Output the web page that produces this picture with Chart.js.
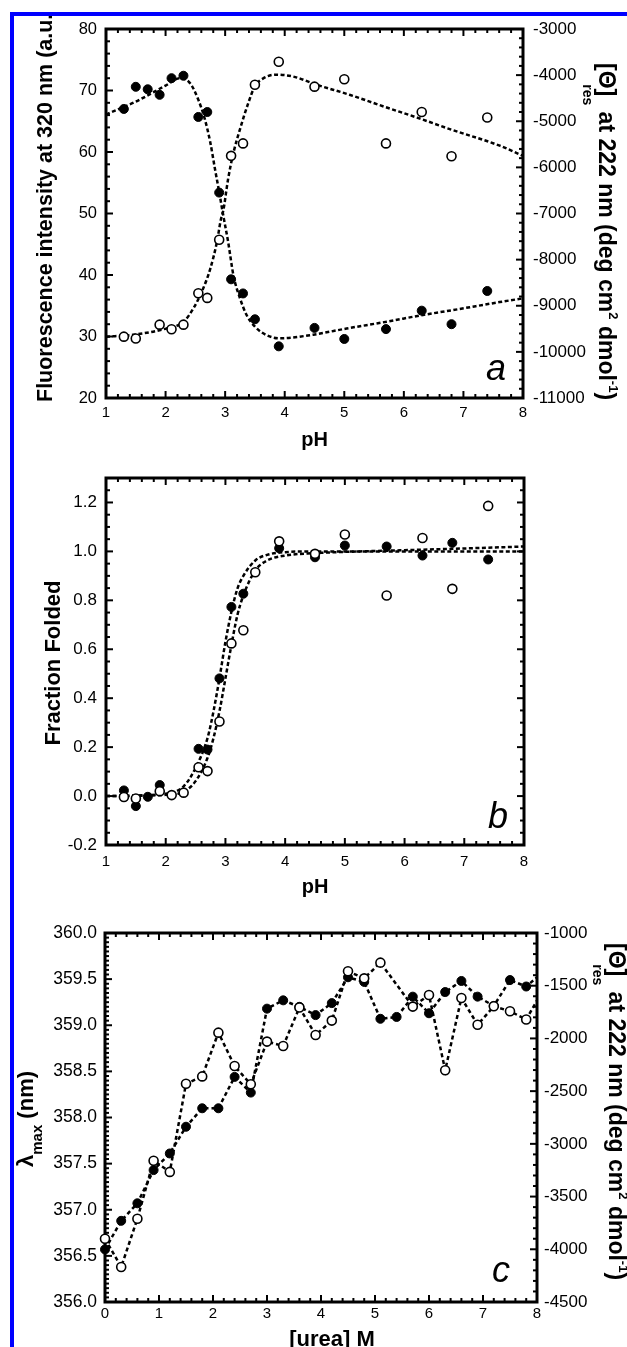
<!DOCTYPE html>
<html>
<head>
<meta charset="utf-8">
<script src="https://cdn.jsdelivr.net/npm/chart.js@4.4.1/dist/chart.umd.min.js"></script>
<style>
    html, body { margin: 0; padding: 0; background: #fff; }
    body { width: 627px; height: 1347px; position: relative; overflow: hidden; }
    canvas { position: absolute; left: 0; }
    #chart-a { top: 0; }
    #chart-b { top: 455px; }
    #chart-c { top: 905px; }
    .page-mask { position: absolute; left: 0; top: 0; width: 627px; height: 12px; background: #fff; }
    .page-mask.side { width: 10px; height: 1347px; }
    .page-edge {
        position: absolute; left: 10px; top: 12px; right: -10px; bottom: -10px;
        border-left: 4px solid #0000ff; border-top: 4px solid #0000ff;
        pointer-events: none;
    }
</style>
</head>
<body>
<canvas id="chart-a" width="627" height="455"></canvas>
<canvas id="chart-b" width="627" height="450"></canvas>
<canvas id="chart-c" width="627" height="442"></canvas>
<div class="page-mask"></div>
<div class="page-mask side"></div>
<div class="page-edge"></div>

<script>
/* ===========================
   DATA - panel a (pH, fluorescence / CD)
=========================== */

const phFluor = [1.3, 1.5, 1.7, 1.9, 2.1, 2.3, 2.55, 2.7, 2.9, 3.1, 3.3, 3.5, 3.9, 4.5, 5.0, 5.7, 6.3, 6.8, 7.4];
const fluorA = [67.0, 70.6, 70.2, 69.3, 72.0, 72.4, 65.7, 66.5, 53.4, 39.3, 37.0, 32.8, 28.4, 31.4, 29.6, 31.2, 34.2, 32.0, 37.4];

const phCd = [1.3, 1.5, 1.9, 2.1, 2.3, 2.55, 2.7, 2.9, 3.1, 3.3, 3.5, 3.9, 4.5, 5.0, 5.7, 6.3, 6.8, 7.4];
const cdA = [-9670, -9710, -9410, -9510, -9410, -8730, -8830, -7570, -5750, -5480, -4210, -3710, -4250, -4090, -5480, -4800, -5760, -4920];

const fitFluorPh = [1.0, 1.5, 2.0, 2.24, 2.41, 2.55, 2.66, 2.75, 2.83, 2.9, 2.97, 3.05, 3.14, 3.25, 3.36, 3.5, 3.7, 3.92, 4.48, 5.04, 5.71, 6.32, 6.83, 7.61, 8.0];
const fitFluorVal = [66.1, 68.2, 70.8, 72.0, 71.2, 68.5, 65.3, 61.6, 57.2, 53.5, 49.6, 45.4, 39.9, 36.2, 33.5, 31.6, 30.2, 29.7, 30.3, 31.3, 32.4, 33.5, 34.3, 35.6, 36.2];

const fitCdPh = [1.0, 1.45, 2.02, 2.3, 2.47, 2.61, 2.75, 2.86, 2.93, 2.97, 3.05, 3.14, 3.25, 3.39, 3.5, 3.64, 3.86, 4.14, 4.54, 5.1, 5.66, 6.22, 6.77, 7.61, 8.0];
const fitCdVal = [-9670, -9630, -9490, -9350, -9050, -8690, -8200, -7630, -7120, -6930, -6250, -5680, -5170, -4600, -4240, -4070, -3990, -4030, -4210, -4430, -4680, -4920, -5170, -5530, -5750];

/* ===========================
   DATA - panel b (fraction folded)
=========================== */

const phFoldFilled = [1.3, 1.5, 1.7, 1.9, 2.55, 2.7, 2.9, 3.1, 3.3, 3.9, 4.5, 5.0, 5.7, 6.3, 6.8, 7.4];
const foldFilled = [0.023, -0.041, -0.003, 0.045, 0.193, 0.190, 0.481, 0.773, 0.827, 1.013, 0.976, 1.024, 1.020, 0.983, 1.035, 0.967];

const phFoldOpen = [1.3, 1.5, 1.9, 2.1, 2.3, 2.55, 2.7, 2.9, 3.1, 3.3, 3.5, 3.9, 4.5, 5.0, 5.7, 6.3, 6.8, 7.4];
const foldOpen = [-0.004, -0.010, 0.020, 0.004, 0.014, 0.118, 0.102, 0.305, 0.624, 0.678, 0.915, 1.041, 0.990, 1.069, 0.820, 1.055, 0.847, 1.186];

const fitFoldPh = [1.0, 2.0, 2.3, 2.5, 2.7, 2.8, 2.9, 3.0, 3.1, 3.2, 3.3, 3.5, 3.7, 4.0, 4.5, 5.0, 6.0, 7.0, 8.0];
const fitFoldFilled = [0.0, 0.01, 0.04, 0.115, 0.237, 0.346, 0.481, 0.63, 0.753, 0.847, 0.90, 0.963, 0.986, 0.997, 1.0, 1.0, 1.0, 1.0, 1.0];
const fitFoldOpen = [0.0, 0.005, 0.018, 0.061, 0.156, 0.237, 0.346, 0.481, 0.617, 0.739, 0.82, 0.922, 0.963, 0.983, 0.993, 0.998, 1.005, 1.012, 1.02];

/* ===========================
   DATA - panel c (urea)
=========================== */

const ureaLambda = [0, 0.3, 0.6, 0.9, 1.2, 1.5, 1.8, 2.1, 2.4, 2.7, 3.0, 3.3, 3.6, 3.9, 4.2, 4.5, 4.8, 5.1, 5.4, 5.7, 6.0, 6.3, 6.6, 6.9, 7.2, 7.5, 7.8, 8.1];
const lambdaMax = [356.57, 356.88, 357.07, 357.43, 357.61, 357.90, 358.10, 358.10, 358.44, 358.27, 359.18, 359.27, 359.20, 359.11, 359.24, 359.52, 359.47, 359.07, 359.09, 359.31, 359.13, 359.36, 359.48, 359.31, 359.21, 359.49, 359.42, 359.57];

const ureaCd = [0, 0.3, 0.6, 0.9, 1.2, 1.5, 1.8, 2.1, 2.4, 2.7, 3.0, 3.3, 3.6, 3.9, 4.2, 4.5, 4.8, 5.1, 5.7, 6.0, 6.3, 6.6, 6.9, 7.2, 7.5, 7.8, 8.1];
const cdC = [-3900, -4168, -3710, -3160, -3266, -2430, -2360, -1945, -2262, -2435, -2030, -2072, -1707, -1967, -1831, -1363, -1430, -1281, -1698, -1588, -2302, -1616, -1870, -1695, -1742, -1821, -1550];

/* ===========================
   HELPERS
=========================== */

const FONT = "'Liberation Sans', Arial, sans-serif";

function pairs(xs, ys) {
    return xs.map((x, i) => ({ x: x, y: ys[i] }));
}

function fitLine(xs, ys, axis) {
    return {
        data: pairs(xs, ys),
        yAxisID: axis,
        showLine: true,
        borderColor: "#000",
        borderWidth: 2.5,
        borderDash: [4, 2.5],
        pointRadius: 0,
        cubicInterpolationMode: "monotone",
        order: 3
    };
}

function dots(xs, ys, axis, open, joined) {
    return {
        data: pairs(xs, ys),
        yAxisID: axis,
        showLine: !!joined,
        borderColor: "#000",
        borderWidth: 2.5,
        borderDash: [4, 3],
        pointRadius: 4.5,
        pointBackgroundColor: open ? "#fff" : "#000",
        pointBorderColor: "#000",
        pointBorderWidth: open ? 1.6 : 1,
        clip: { left: 8, top: 8, right: 0, bottom: 8 },
        order: open ? 1 : 2
    };
}

function drawRich(ctx, item) {
    ctx.save();
    ctx.translate(item.x, item.y);
    ctx.rotate(item.angle || 0);
    ctx.fillStyle = "#000";
    ctx.textBaseline = "alphabetic";
    ctx.textAlign = "left";

    const fontFor = (part) =>
        `${item.style || "normal"} ${item.weight || "bold"} ${part.size || item.size}px ${FONT}`;

    let cursor = 0;
    if (item.align === "center") {
        let total = 0;
        item.parts.forEach(part => {
            ctx.font = fontFor(part);
            total += (part.dx || 0) + ctx.measureText(part.text).width;
        });
        cursor = -total / 2;
    }

    item.parts.forEach(part => {
        ctx.font = fontFor(part);
        cursor += part.dx || 0;
        ctx.fillText(part.text, cursor, part.dy || 0);
        cursor += ctx.measureText(part.text).width;
    });
    ctx.restore();
}

/* ===========================
   PLUGINS
=========================== */

const frameTicks = {
    id: "frameTicks",
    beforeDatasetsDraw(chart, args, opts) {
        const { ctx, chartArea: a } = chart;
        ctx.save();
        ctx.strokeStyle = "#000";
        ctx.lineWidth = 2;

        (opts.marks || []).forEach(mark => {
            const scale = chart.scales[mark.axis];
            const count = Math.round((mark.max - mark.min) / mark.minor);

            for (let i = 0; i <= count; i++) {
                const value = mark.min + i * mark.minor;
                const ratio = value / mark.major;
                const major = Math.abs(ratio - Math.round(ratio)) < 1e-6;
                const len = major ? 7 : 4;
                const p = scale.getPixelForValue(value);

                mark.sides.forEach(side => {
                    ctx.beginPath();
                    if (side === "bottom") { ctx.moveTo(p, a.bottom); ctx.lineTo(p, a.bottom - len); }
                    if (side === "top") { ctx.moveTo(p, a.top); ctx.lineTo(p, a.top + len); }
                    if (side === "left") { ctx.moveTo(a.left, p); ctx.lineTo(a.left + len, p); }
                    if (side === "right") { ctx.moveTo(a.right, p); ctx.lineTo(a.right - len, p); }
                    ctx.stroke();
                });
            }
        });

        ctx.lineWidth = 3;
        ctx.strokeRect(a.left, a.top, a.width, a.height);
        ctx.restore();
    }
};

const richTitles = {
    id: "richTitles",
    afterDraw(chart, args, opts) {
        (opts.items || []).forEach(item => drawRich(chart.ctx, item));
    }
};

/* ===========================
   CHART BUILDER
=========================== */

function axis(cfg) {
    return {
        type: "linear",
        position: cfg.position,
        min: cfg.min,
        max: cfg.max,
        grid: { display: false, drawTicks: false },
        border: { display: false },
        ticks: {
            stepSize: cfg.step,
            autoSkip: false,
            maxRotation: 0,
            includeBounds: false,
            padding: cfg.padding,
            color: "#000",
            font: { family: FONT, size: cfg.fontSize || 16 },
            callback: (v) => cfg.digits != null ? Number(v).toFixed(cfg.digits) : String(v)
        },
        afterFit: (scale) => {
            if (cfg.width != null) scale.width = cfg.width;
            if (cfg.height != null) scale.height = cfg.height;
        }
    };
}

function buildChart(id, cfg) {
    return new Chart(document.getElementById(id), {
        type: "scatter",
        data: { datasets: cfg.datasets },
        options: {
            responsive: false,
            animation: false,
            events: [],
            layout: { padding: cfg.padding },
            scales: cfg.scales,
            plugins: {
                legend: { display: false },
                tooltip: { enabled: false },
                frameTicks: { marks: cfg.marks },
                richTitles: { items: cfg.titles }
            }
        },
        plugins: [frameTicks, richTitles]
    });
}

/* ===========================
   PANEL A
=========================== */

const cdTitleParts = [
    { text: "[\u0398]" },
    { text: "res", size: 14, dx: -12, dy: 16 },
    { text: " at 222 nm (deg cm" },
    { text: "2", size: 13, dy: -10 },
    { text: " dmol" },
    { text: "-1", size: 13, dy: -10 },
    { text: ")" }
];

buildChart("chart-a", {
    padding: { top: 29, left: 0, right: 0, bottom: 0 },
    datasets: [
        fitLine(fitFluorPh, fitFluorVal, "y"),
        fitLine(fitCdPh, fitCdVal, "y2"),
        dots(phFluor, fluorA, "y", false),
        dots(phCd, cdA, "y2", true)
    ],
    scales: {
        x: axis({ position: "bottom", min: 1, max: 8, step: 1, padding: 6, fontSize: 15, height: 57 }),
        y: axis({ position: "left", min: 20, max: 80, step: 10, padding: 9, fontSize: 16.5, width: 106 }),
        y2: axis({ position: "right", min: -11000, max: -3000, step: 1000, padding: 10, fontSize: 17, width: 104 })
    },
    marks: [
        { axis: "x", min: 1, max: 8, minor: 0.2, major: 1, sides: ["bottom", "top"] },
        { axis: "y", min: 20, max: 80, minor: 2, major: 10, sides: ["left"] },
        { axis: "y2", min: -11000, max: -3000, minor: 200, major: 1000, sides: ["right"] }
    ],
    titles: [
        { x: 52, y: 402, angle: -Math.PI / 2, size: 21.5, parts: [{ text: "Fluorescence intensity at 320 nm (a.u.)" }] },
        { x: 599, y: 63, angle: Math.PI / 2, size: 23, parts: cdTitleParts },
        { x: 314.5, y: 446, size: 20, align: "center", parts: [{ text: "pH" }] },
        { x: 486, y: 380, size: 36, style: "italic", weight: "normal", parts: [{ text: "a" }] }
    ]
});

/* ===========================
   PANEL B
=========================== */

buildChart("chart-b", {
    padding: { top: 23, left: 0, right: 103, bottom: 0 },
    datasets: [
        fitLine(fitFoldPh, fitFoldFilled, "y"),
        fitLine(fitFoldPh, fitFoldOpen, "y"),
        dots(phFoldFilled, foldFilled, "y", false),
        dots(phFoldOpen, foldOpen, "y", true)
    ],
    scales: {
        x: axis({ position: "bottom", min: 1, max: 8, step: 1, padding: 8, fontSize: 15, height: 60 }),
        y: axis({ position: "left", min: -0.2, max: 1.3, step: 0.2, padding: 9, fontSize: 17, digits: 1, width: 106 })
    },
    marks: [
        { axis: "x", min: 1, max: 8, minor: 0.2, major: 1, sides: ["bottom", "top"] },
        { axis: "y", min: -0.2, max: 1.3, minor: 0.05, major: 0.2, sides: ["left", "right"] }
    ],
    titles: [
        { x: 60, y: 208, angle: -Math.PI / 2, size: 22, align: "center", parts: [{ text: "Fraction Folded" }] },
        { x: 315, y: 438, size: 20, align: "center", parts: [{ text: "pH" }] },
        { x: 488, y: 373, size: 36, style: "italic", weight: "normal", parts: [{ text: "b" }] }
    ]
});

/* ===========================
   PANEL C
=========================== */

buildChart("chart-c", {
    padding: { top: 28, left: 0, right: 0, bottom: 0 },
    datasets: [
        dots(ureaLambda, lambdaMax, "y", false, true),
        dots(ureaCd, cdC, "y2", true, true)
    ],
    scales: {
        x: axis({ position: "bottom", min: 0, max: 8, step: 1, padding: 3, fontSize: 15, height: 45 }),
        y: axis({ position: "left", min: 356, max: 360, step: 0.5, padding: 8, fontSize: 17.5, digits: 1, width: 105 }),
        y2: axis({ position: "right", min: -4500, max: -1000, step: 500, padding: 7, fontSize: 17, width: 90 })
    },
    marks: [
        { axis: "x", min: 0, max: 8, minor: 0.2, major: 1, sides: ["bottom", "top"] },
        { axis: "y", min: 356, max: 360, minor: 0.05, major: 0.5, sides: ["left"] },
        { axis: "y2", min: -4500, max: -1000, minor: 100, major: 500, sides: ["right"] }
    ],
    titles: [
        { x: 33, y: 262, angle: -Math.PI / 2, size: 22, parts: [
            { text: "\u03bb" },
            { text: "max", size: 15, dy: 9 },
            { text: " (nm)" }
        ] },
        { x: 609, y: 38, angle: Math.PI / 2, size: 23, parts: cdTitleParts },
        { x: 332, y: 441, size: 22, align: "center", parts: [{ text: "[urea] M" }] },
        { x: 492, y: 377, size: 36, style: "italic", weight: "normal", parts: [{ text: "c" }] }
    ]
});
</script>
</body>
</html>
